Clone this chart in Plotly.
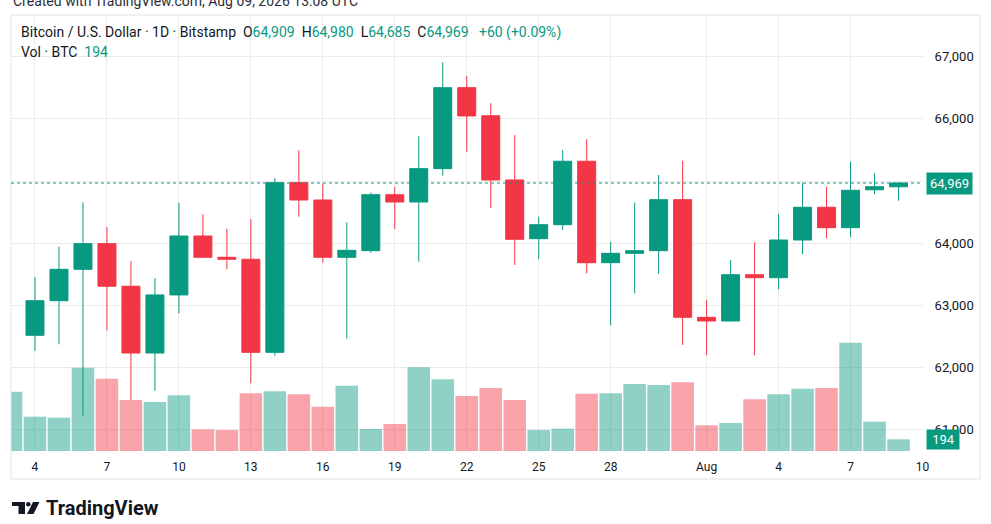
import pandas as pd
import plotly.graph_objects as go

# daily candles, Bitstamp BTC/USD
dates = pd.date_range("2026-07-04", "2026-08-09", freq="D")
opens = [62521, 63077, 63582, 63994, 63310, 62236, 63170, 64117, 63775, 63743,
         62247, 64975, 64696, 63775, 63881, 64781, 64664, 65200, 66502, 66050,
         65018, 64074, 64299, 65319, 63688, 63839, 63881, 64701, 62810, 62751,
         63495, 63447, 64053, 64579, 64251, 64860, 64909]
highs = [63453, 63945, 64659, 64262, 63715, 63442, 64653, 64471, 64235, 64386,
         65045, 65500, 64965, 64338, 64814, 64910, 65720, 66910, 66690, 66251,
         65741, 64428, 65500, 65672, 64026, 64653, 65098, 65328, 63088, 63731,
         64016, 64471, 64974, 64910, 65312, 65126, 64980]
lows = [62273, 62376, 61228, 62601, 61480, 61630, 62874, 63770, 63582, 61749,
        62193, 64428, 63688, 62472, 63849, 64230, 63704, 65087, 65473, 64568,
        63651, 63743, 64214, 63518, 62681, 63196, 63506, 62365, 62199, 62740,
        62199, 63260, 63823, 64080, 64101, 64788, 64685]
closes = [63077, 63582, 63994, 63310, 62236, 63170, 64117, 63775, 63743, 62247,
          64975, 64696, 63775, 63887, 64781, 64664, 65200, 66502, 66047, 65018,
          64064, 64299, 65319, 63688, 63839, 63881, 64701, 62810, 62751, 63495,
          63447, 64053, 64579, 64251, 64852, 64909, 64969]

# volume (BTC), starts one day earlier (Jul 3 bar is cut at the left edge)
vol_dates = pd.date_range("2026-07-03", "2026-08-09", freq="D")
volumes = [983, 569, 552, 1381, 1199, 846, 812, 923, 360, 348,
           957, 990, 940, 735, 1083, 365, 448, 1388, 1189, 912,
           1045, 846, 348, 370, 950, 957, 1111, 1094, 1139, 426,
           464, 857, 940, 1033, 1045, 1796, 486, 194]
first_vol_up = True

tick_dates = ["2026-07-04", "2026-07-07", "2026-07-10", "2026-07-13", "2026-07-16",
              "2026-07-19", "2026-07-22", "2026-07-25", "2026-07-28", "2026-08-01",
              "2026-08-04", "2026-08-07", "2026-08-10"]
tick_text = ["4", "7", "10", "13", "16", "19", "22", "25", "28", "Aug", "4", "7", "10"]
price_ticks = [61000, 62000, 63000, 64000, 65000, 66000, 67000]

UP = "#089981"
DOWN = "#F23645"
TXT = "#131722"
GRID = "#EBEBEB"
FONT = "Roboto, Arial, sans-serif"

# plot area in pixels (page 991x524)
L, R, T, B = 11, 923, 15, 451


def px(x):
    return (x - L) / (R - L)


def py(y):
    return (B - y) / (B - T)


vol_colors = [UP if first_vol_up else DOWN]
for o, c in zip(opens, closes):
    vol_colors.append(UP if c >= o else DOWN)
vol_colors = [("rgba(8,153,129,0.45)" if c == UP else "rgba(242,54,69,0.45)") for c in vol_colors]

fig = go.Figure()
fig.add_trace(go.Bar(x=vol_dates, y=volumes, marker=dict(color=vol_colors, line=dict(width=0)),
                     yaxis="y", hoverinfo="skip", showlegend=False))
fig.add_trace(go.Candlestick(
    x=dates, open=opens, high=highs, low=lows, close=closes, yaxis="y2",
    increasing=dict(line=dict(color=UP, width=1), fillcolor=UP),
    decreasing=dict(line=dict(color=DOWN, width=1), fillcolor=DOWN),
    whiskerwidth=0, showlegend=False))

last_o, last_h, last_l, last_c = opens[-1], highs[-1], lows[-1], closes[-1]
chg = last_c - closes[-2]
pct = chg / closes[-2] * 100


def g(s):
    return "<span style='color:%s'>%s</span>" % (UP, s)


sp = "\u00a0"
header = ("Bitcoin / U.S. Dollar · 1D · Bitstamp" + sp * 2 +
          "O" + g("{:,}".format(last_o)) + sp * 2 +
          "H" + g("{:,}".format(last_h)) + sp * 2 +
          "L" + g("{:,}".format(last_l)) + sp * 2 +
          "C" + g("{:,}".format(last_c)) + sp * 3 +
          g("%+d (%+.2f%%)" % (chg, pct)))

annotations = [
    dict(x=px(11), y=py(1), xref="paper", yref="paper", xanchor="left", yanchor="middle",
         text="Created with TradingView.com, Aug 09, 2026 13:08 UTC", showarrow=False,
         font=dict(family=FONT, size=14, color="#2a2e39")),
    dict(x=px(19), y=py(33), xref="paper", yref="paper", xanchor="left", yanchor="middle",
         text=header, showarrow=False, font=dict(family=FONT, size=14, color=TXT)),
    dict(x=px(19), y=py(52), xref="paper", yref="paper", xanchor="left", yanchor="middle",
         text="Vol · BTC" + sp * 2 + g(str(volumes[-1])), showarrow=False,
         font=dict(family=FONT, size=14, color=TXT)),
    dict(x=px(926), y=last_c, xref="paper", yref="y2", xanchor="left", yanchor="middle",
         text="{:,}".format(last_c), showarrow=False, bgcolor=UP, borderpad=3,
         font=dict(family=FONT, size=13, color="white")),
    dict(x=px(926), y=volumes[-1], xref="paper", yref="y", xanchor="left", yanchor="middle",
         text=sp + str(volumes[-1]) + sp, showarrow=False, bgcolor=UP, borderpad=2,
         font=dict(family=FONT, size=13, color="white")),
    dict(x=px(44), y=py(508), xref="paper", yref="paper", xanchor="left", yanchor="middle",
         text="<b>TradingView</b>", showarrow=False,
         font=dict(family=FONT, size=20, color=TXT)),
]


def path(pts):
    return "M " + " L ".join("%f,%f" % (px(a), py(b)) for a, b in pts) + " Z"


shapes = [
    # outer frame of the chart
    dict(type="rect", xref="paper", yref="paper", x0=px(11), x1=px(980), y0=py(479), y1=py(15),
         line=dict(color="#E0E3EB", width=1), layer="above"),
    # last price line
    dict(type="line", xref="paper", yref="y2", x0=0, x1=1, y0=last_c, y1=last_c,
         line=dict(color=UP, width=1, dash="dot")),
    # TradingView logo
    dict(type="path", xref="paper", yref="paper", line=dict(width=0), fillcolor=TXT,
         path=path([(12, 502), (25, 502), (25, 514), (18.5, 514), (18.5, 506), (12, 506)])),
    dict(type="circle", xref="paper", yref="paper", line=dict(width=0), fillcolor=TXT,
         x0=px(26), x1=px(30.5), y0=py(506.5), y1=py(502)),
    dict(type="path", xref="paper", yref="paper", line=dict(width=0), fillcolor=TXT,
         path=path([(33, 502), (39.5, 502), (33.5, 514), (27, 514)])),
]

fig.update_layout(
    width=991, height=524,
    margin=dict(l=L, r=991 - R, t=T, b=524 - B, pad=0),
    paper_bgcolor="white", plot_bgcolor="white",
    boxgap=0.25, boxgroupgap=0, bargap=0.06,
    showlegend=False,
    font=dict(family=FONT, size=12, color=TXT),
    xaxis=dict(type="date", range=["2026-07-03", "2026-08-10 00:30"],
               tickvals=tick_dates, ticktext=tick_text,
               showgrid=True, gridcolor=GRID, gridwidth=1,
               ticks="outside", ticklen=5, tickcolor="rgba(0,0,0,0)",
               tickfont=dict(family=FONT, size=12, color=TXT),
               rangeslider=dict(visible=False), showline=False, zeroline=False),
    yaxis=dict(range=[0, 7229], showgrid=False, showticklabels=False, zeroline=False),
    yaxis2=dict(overlaying="y", side="right", range=[60661, 67670],
                tickvals=price_ticks,
                ticktext=["" if v == 65000 else "{:,}".format(v) for v in price_ticks],
                showgrid=True, gridcolor=GRID, gridwidth=1, zeroline=False,
                ticks="outside", ticklen=8, tickcolor="rgba(0,0,0,0)",
                tickfont=dict(family=FONT, size=13, color=TXT)),
    annotations=annotations,
    shapes=shapes,
)

# page body has a default 8px margin; drop it so the figure sits at the window corner
fig.write_html("out.html", config={"displayModeBar": False},
               post_script="document.body.style.margin='0';")
